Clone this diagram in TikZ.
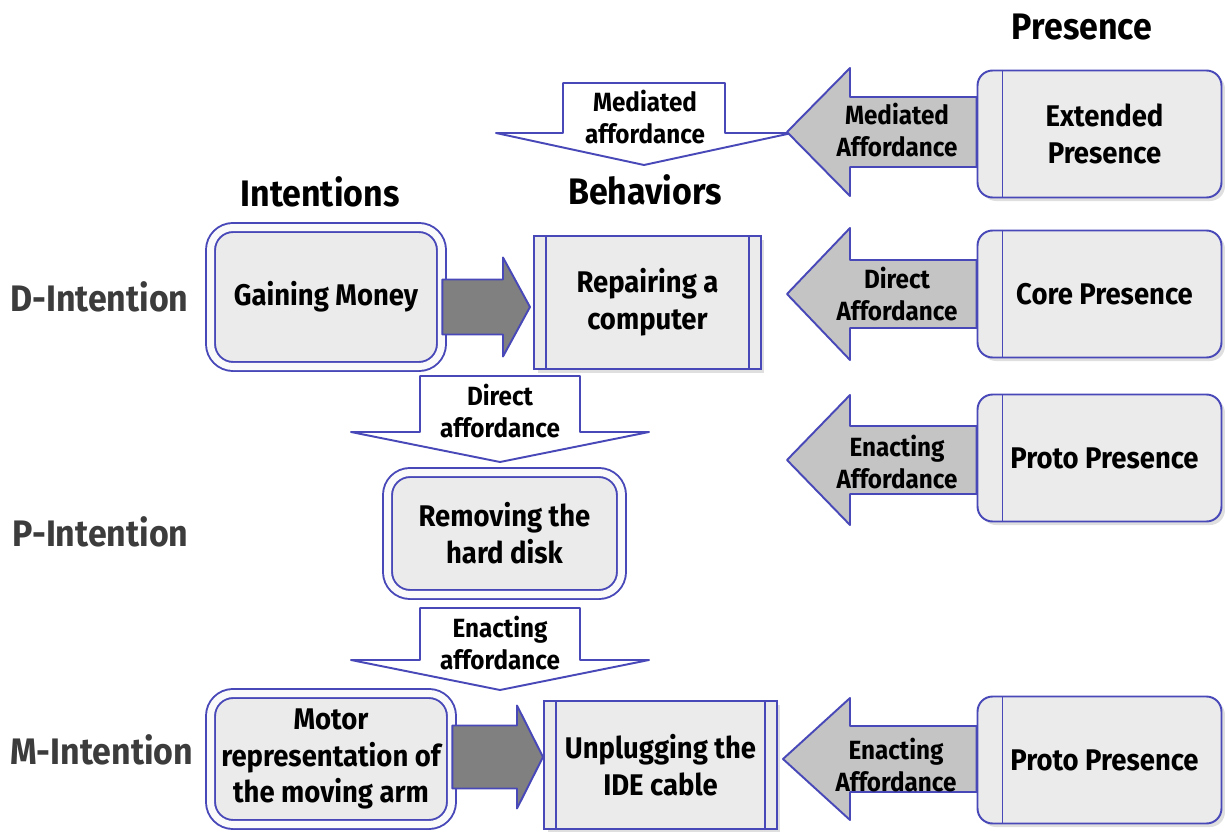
\documentclass[tikz,border=0pt]{standalone}
\usepackage{fontspec}
\setmainfont{Fira Sans}[FakeStretch=0.92]
\usepackage{tikz}
\usetikzlibrary{positioning, calc, shadows}
\definecolor{boxblue}{HTML}{4848B8}
\definecolor{boxgray}{HTML}{EBEBEB}
\definecolor{lightarrow}{HTML}{C4C4C4}
\definecolor{darkarrow}{HTML}{808080}
\definecolor{rowgray}{HTML}{3C3C3C}
\newcommand{\boxfont}{\fontsize{17}{21}\selectfont\bfseries}
\newcommand{\arrfont}{\fontsize{15}{18.5}\selectfont\bfseries}
\newcommand{\headfont}{\fontsize{21}{25}\selectfont\bfseries}
% block arrows: [style]{tail}{tip}{shaft half}{head half}{head length}
\newcommand{\blockh}[6][]{%
    \draw[blockarr,#1] ($(#2|-#3)+(0,#4)$) -- ($(#3)+(#6,#4)$) -- ($(#3)+(#6,#5)$) -- (#3)
        -- ($(#3)+(#6,-#5)$) -- ($(#3)+(#6,-#4)$) -- ($(#2|-#3)+(0,-#4)$) -- cycle;}
\newcommand{\blockv}[6][]{%
    \draw[blockarr,#1] ($(#2)+(-#4,0)$) -- ($(#3)+(-#4,#6)$) -- ($(#3)+(-#5,#6)$) -- (#3)
        -- ($(#3)+(#5,#6)$) -- ($(#3)+(#4,#6)$) -- ($(#2)+(#4,0)$) -- cycle;}

\begin{document}
\begin{tikzpicture}[
        x=0.02cm, y=0.02cm,
        shade/.style={drop shadow={shadow xshift=2pt, shadow yshift=-2pt, opacity=0.25}},
        intent/.style={draw=boxblue, line width=1.1pt, double=white!96!gray, double distance=4pt,
            fill=boxgray, rounded corners=0.45cm, align=center, font=\boxfont, shade},
        behav/.style={draw=boxblue, line width=1.1pt, fill=boxgray, align=center, font=\boxfont, shade,
            path picture={\draw[boxblue, line width=1.1pt]
                ([xshift=0.24cm]path picture bounding box.north west) -- ([xshift=0.24cm]path picture bounding box.south west)
                ([xshift=-0.24cm]path picture bounding box.north east) -- ([xshift=-0.24cm]path picture bounding box.south east);}},
        presence/.style={draw=boxblue, line width=1.1pt, fill=boxgray, rounded corners=0.3cm,
            minimum width=4.88cm, minimum height=2.54cm, align=center, font=\boxfont, shade,
            path picture={\draw[boxblue, line width=1.1pt]
                ([xshift=0.5cm]path picture bounding box.north west) -- ([xshift=0.5cm]path picture bounding box.south west);}},
        blockarr/.style={draw=boxblue, line width=1.1pt, line join=round},
        whitearr/.style={fill=white},
        greyarr/.style={fill=lightarrow},
        darkarr/.style={fill=darkarrow},
        arrlab/.style={align=center, font=\arrfont},
        head/.style={font=\headfont},
        rowlab/.style={anchor=west, font=\headfont, text=rowgray}
    ]
    \useasboundingbox (0,0) rectangle (1225,-832);

    % headings
    \node[head] (pres) at (1082,-27) {Presence};
    \node[head] (intent) at (320,-192) {Intentions};
    \node[head] (behav) at (645,-190) {Behaviors};
    \node[rowlab] (dint) at (4,-297) {D-Intention};
    \node[rowlab] (pint) at (6,-532) {P-Intention};
    \node[rowlab] (mint) at (4,-750) {M-Intention};

    % boxes
    \node[intent, minimum width=4.62cm, minimum height=2.78cm] (gain) at (326,-297) {Gaining Money};
    \node[behav, minimum width=4.54cm, minimum height=2.66cm] (rep) at (647.5,-302.5) {Repairing a\\computer};
    \node[intent, minimum width=4.68cm, minimum height=2.44cm] (rem) at (504.5,-533.5) {Removing the\\hard disk};
    \node[intent, minimum width=4.82cm, minimum height=2.62cm] (motor) at (331,-759) {Motor\\representation of\\the moving arm};
    \node[behav, minimum width=4.66cm, minimum height=2.56cm] (unplug) at (660.5,-765) {Unplugging the\\IDE cable};
    \node[presence] (ext) at (1099.5,-134) {\hspace*{0.2cm}Extended\\\hspace*{0.2cm}Presence};
    \node[presence] (core) at (1099.5,-294) {\hspace*{0.2cm}Core Presence};
    \node[presence] (proto) at (1099.5,-458) {\hspace*{0.2cm}Proto Presence};
    \node[presence] (protob) at (1099.5,-760) {\hspace*{0.2cm}Proto Presence};

    % arrow ends
    \coordinate (medtop) at (644,-83);
    \coordinate (medtip) at (644,-165);
    \coordinate (dirtop) at (500,-376);
    \coordinate (dirtip) at (500,-462);
    \coordinate (enatop) at (500,-608);
    \coordinate (enatip) at (500,-690);
    \coordinate (gtip) at (530,-307);
    \coordinate (mtip) at (543,-757);
    \coordinate (exttip) at (787,-132);
    \coordinate (coretip) at (787,-294);
    \coordinate (prototip) at (787,-460);
    \coordinate (protobtip) at (783,-759);

    \blockv[whitearr]{medtop}{medtip}{81}{148}{32}
    \blockv[whitearr]{dirtop}{dirtip}{80}{149}{30}
    \blockv[whitearr]{enatop}{enatip}{80}{149}{30}
    \blockh[darkarr]{gain.east}{gtip}{27.5}{49.5}{-27}
    \blockh[darkarr]{motor.east}{mtip}{31.5}{51.5}{-26}
    \blockh[greyarr]{ext.west}{exttip}{35}{64}{63}
    \blockh[greyarr]{core.west}{coretip}{34}{66}{63}
    \blockh[greyarr]{proto.west}{prototip}{34}{65}{63}
    \blockh[greyarr]{protob.west}{protobtip}{33}{61}{67}

    % arrow labels
    \node[arrlab] (medl) at (645,-117) {Mediated\\affordance};
    \node[arrlab] (dirl) at (500,-411) {Direct\\affordance};
    \node[arrlab] (enal) at (500,-643) {Enacting\\affordance};
    \node[arrlab] (extl) at (897,-130) {Mediated\\Affordance};
    \node[arrlab] (corel) at (897,-294) {Direct\\Affordance};
    \node[arrlab] (protol) at (897,-462) {Enacting\\Affordance};
    \node[arrlab] (protobl) at (896,-765) {Enacting\\Affordance};
\end{tikzpicture}
\end{document}
